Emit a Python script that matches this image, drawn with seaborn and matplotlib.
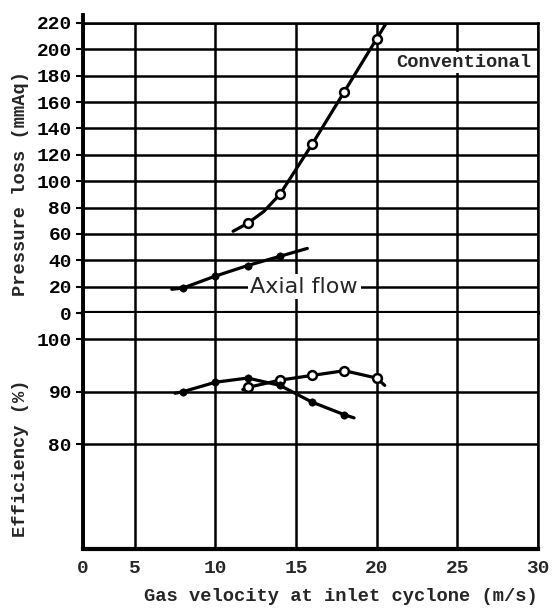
import numpy as np
import matplotlib
matplotlib.use("Agg")
import matplotlib.pyplot as plt
import seaborn as sns

# --- data ---
# pressure loss (mmAq) vs gas velocity (m/s)
conv_dp_x = [12, 14, 16, 18, 20]
conv_dp_y = [68, 90, 128, 168, 208]
conv_dp_curve_x = [11.1, 12, 13, 14, 16, 18, 20, 20.6]
conv_dp_curve_y = [62, 68, 77, 90, 128, 168, 208, 220]

axial_dp_x = [8, 10, 12, 14]
axial_dp_y = [19, 28, 36, 43]
axial_dp_curve_x = [7.3, 8, 10, 12, 14, 15.7]
axial_dp_curve_y = [18, 19, 28, 36, 43, 49]

# efficiency (%) vs gas velocity (m/s)
conv_eff_x = [12, 14, 16, 18, 20]
conv_eff_y = [90.8, 92.2, 93.1, 94.0, 92.6]
conv_eff_curve_x = [11.7, 12, 14, 16, 18, 20, 20.5]
conv_eff_curve_y = [90.4, 90.8, 92.2, 93.1, 94.0, 92.6, 91.2]

axial_eff_x = [8, 10, 12, 14, 16, 18]
axial_eff_y = [90.0, 91.8, 92.6, 91.2, 88.0, 85.6]
axial_eff_curve_x = [7.5, 8, 10, 12, 14, 16, 18, 18.6]
axial_eff_curve_y = [89.7, 90.0, 91.8, 92.6, 91.2, 88.0, 85.6, 85.0]

x_ticks = [0, 5, 10, 15, 20, 25, 30]
dp_ticks = list(range(0, 221, 20))
eff_ticks = [80, 90, 100]

sns.set_style("white")
mono = "Liberation Mono"


# the velocity axis is squeezed between 0 and 5
def fwd(v):
    v = np.asarray(v, dtype=float)
    return np.where(v < 5, v * 3.2 / 5, v - 1.8)


def inv(u):
    u = np.asarray(u, dtype=float)
    return np.where(u < 3.2, u * 5 / 3.2, u + 1.8)


fig = plt.figure(figsize=(5.54, 6.11), dpi=100)
ax1 = fig.add_axes([0.150, 0.4877, 0.821, 0.4747])
ax2 = fig.add_axes([0.150, 0.1015, 0.821, 0.3862])

for ax in (ax1, ax2):
    ax.set_xscale("function", functions=(fwd, inv))
    ax.set_xlim(0, 30)
    ax.set_xticks(x_ticks)
    ax.grid(True, color="black", lw=1.8)
    ax.set_axisbelow(True)
    for s in ax.spines.values():
        s.set_color("black")
    ax.spines["left"].set_linewidth(2.8)
    ax.spines["bottom"].set_linewidth(3.0)
    ax.spines["right"].set_linewidth(1.8)
    ax.tick_params(axis="y", direction="out", length=5, width=1.5, pad=3,
                   left=True, colors="black")
    ax.tick_params(axis="x", length=0, pad=8)

# pressure loss panel
sns.lineplot(x=conv_dp_curve_x, y=conv_dp_curve_y, ax=ax1, color="black",
             lw=2.3, sort=False, estimator=None)
sns.scatterplot(x=conv_dp_x, y=conv_dp_y, ax=ax1, marker="o", s=40,
                facecolor="white", edgecolor="black", linewidth=1.8, zorder=4)
sns.lineplot(x=axial_dp_curve_x, y=axial_dp_curve_y, ax=ax1, color="black",
             lw=2.3, sort=False, estimator=None)
sns.scatterplot(x=axial_dp_x, y=axial_dp_y, ax=ax1, marker="o", s=28,
                color="black", edgecolor="black", zorder=4)

ax1.set_ylim(0, 220)
ax1.set_yticks(dp_ticks)
ax1.set_yticklabels([str(t) for t in dp_ticks], fontfamily=mono,
                    fontweight="bold", fontsize=14)
ax1.set_xticklabels([])
ax1.spines["top"].set_linewidth(1.8)
ax1.spines["left"].set_bounds(0, 226)
ax1.set_ylabel("Pressure loss (mmAq)", fontfamily=mono, fontweight="bold",
               fontsize=13.5)
ax1.yaxis.set_label_coords(-0.118, 0.448)

ax1.text(29.6, 190, "Conventional", ha="right", va="center", fontfamily=mono,
         fontweight="bold", fontsize=13.5, zorder=5,
         bbox=dict(facecolor="white", edgecolor="none", pad=1.2))
ax1.text(15.5, 20, "Axial flow", ha="center", va="center",
         fontfamily="DejaVu Sans", fontsize=16, zorder=5,
         bbox=dict(facecolor="white", edgecolor="none", pad=2))

# efficiency panel
sns.lineplot(x=conv_eff_curve_x, y=conv_eff_curve_y, ax=ax2, color="black",
             lw=2.3, sort=False, estimator=None)
sns.scatterplot(x=conv_eff_x, y=conv_eff_y, ax=ax2, marker="o", s=40,
                facecolor="white", edgecolor="black", linewidth=1.8, zorder=4)
sns.lineplot(x=axial_eff_curve_x, y=axial_eff_curve_y, ax=ax2, color="black",
             lw=2.3, sort=False, estimator=None)
sns.scatterplot(x=axial_eff_x, y=axial_eff_y, ax=ax2, marker="o", s=28,
                color="black", edgecolor="black", zorder=4)

ax2.set_ylim(60, 105)
ax2.set_yticks(eff_ticks)
ax2.set_yticklabels([str(t) for t in eff_ticks], fontfamily=mono,
                    fontweight="bold", fontsize=14)
ax2.set_xticklabels([str(t) for t in x_ticks], fontfamily=mono,
                    fontweight="bold", fontsize=14)
ax2.spines["top"].set_visible(False)
ax2.set_ylabel("Efficiency (%)", fontfamily=mono, fontweight="bold",
               fontsize=13.5)
ax2.yaxis.set_label_coords(-0.118, 0.386)
ax2.set_xlabel("Gas velocity at inlet cyclone (m/s)", fontfamily=mono,
               fontweight="bold", fontsize=13.5)
ax2.xaxis.set_label_coords(0.567, -0.165)

fig.savefig("out.png", dpi=100)
